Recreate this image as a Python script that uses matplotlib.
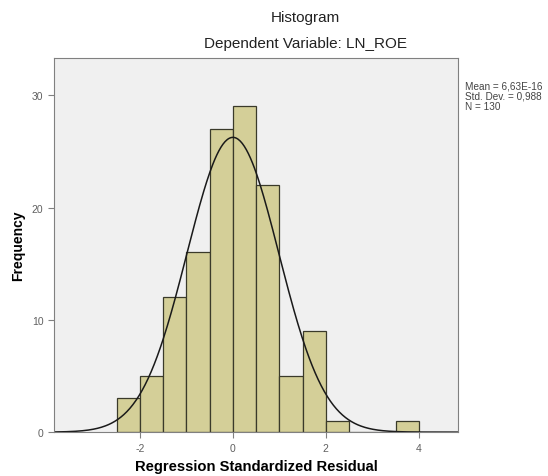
import numpy as np
import matplotlib.pyplot as plt

plt.rcParams['font.family'] = ['Liberation Sans', 'DejaVu Sans']
plt.rcParams['axes.unicode_minus'] = False

# histogram of regression standardized residuals
bin_edges = [-2.5, -2.0, -1.5, -1.0, -0.5, 0.0, 0.5, 1.0, 1.5, 2.0, 2.5, 3.0, 3.5, 4.0]
counts = [3, 5, 12, 16, 27, 29, 22, 5, 9, 1, 0, 0, 1]
mean = 6.63e-16
std = 0.988
n = 130

fig = plt.figure(figsize=(5.48, 4.77), dpi=100)
fig.patch.set_facecolor('white')
ax = fig.add_axes([0.0985, 0.092, 0.737, 0.784])
ax.set_facecolor('#f0f0f0')

widths = np.diff(bin_edges)
ax.bar(bin_edges[:-1], counts, width=widths, align='edge',
       color='#d4cf98', edgecolor='#3a3a2a', linewidth=0.9)

xs = np.linspace(-3.85, 4.84, 400)
bw = widths[0]
ys = n * bw / (std * np.sqrt(2 * np.pi)) * np.exp(-0.5 * ((xs - mean) / std) ** 2)
ax.plot(xs, ys, color='#1a1a1a', linewidth=1.1)

ax.set_xlim(-3.85, 4.84)
ax.set_ylim(0, 33.3)
ax.set_xticks([-2, 0, 2, 4])
ax.set_yticks([0, 10, 20, 30])
for s in ax.spines.values():
    s.set_color('#808080')
    s.set_linewidth(0.8)
ax.tick_params(colors='#808080', labelsize=7.5, length=4, width=0.8, labelcolor='#606060')

ax.set_xlabel('Regression Standardized Residual', fontsize=10.6, fontweight='bold', labelpad=5)
ax.set_ylabel('Frequency', fontsize=10, fontweight='bold', labelpad=5)

fig.text(0.557, 0.963, 'Histogram', ha='center', va='center', fontsize=11, color='#222222')
fig.text(0.557, 0.907, 'Dependent Variable: LN_ROE', ha='center', va='center', fontsize=11, color='#222222')

fig.text(0.849, 0.829, 'Mean = 6,63E-16\nStd. Dev. = 0,988\nN = 130', ha='left', va='top',
         fontsize=7.2, color='#444444', linespacing=1.0)

fig.savefig('out.png', dpi=100)
